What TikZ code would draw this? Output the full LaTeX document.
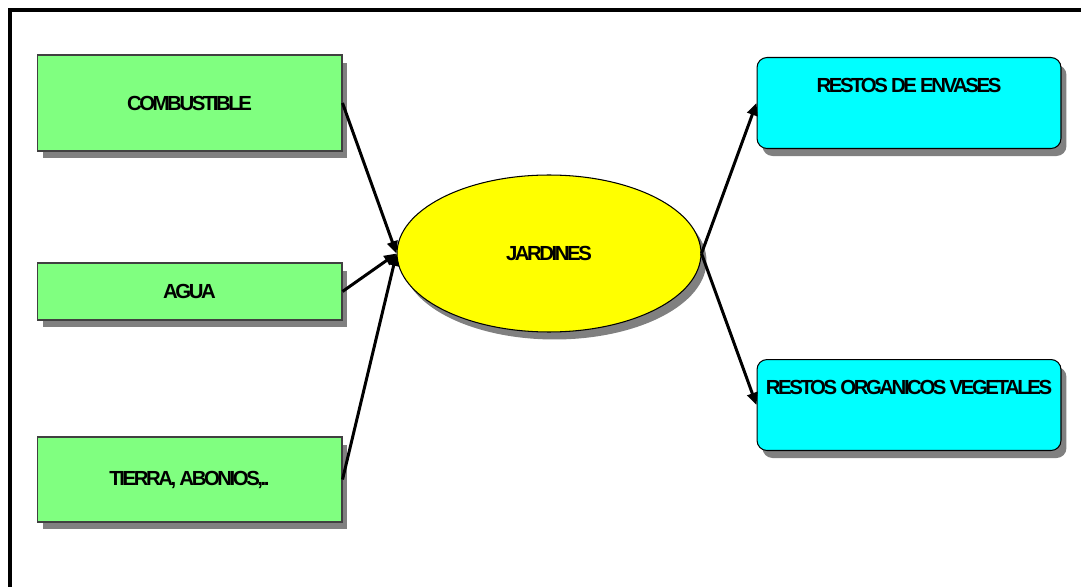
\documentclass[tikz,border=0pt]{standalone}
\usepackage{fontspec}
\setmainfont{Liberation Sans}
\newfontfamily\boxfont[LetterSpace=-12]{Liberation Sans}
\usepackage{xcolor}
\usetikzlibrary{arrows.meta,shapes.geometric,shadows}

\definecolor{jgreen}{HTML}{80FF80}
\definecolor{jcyan}{HTML}{00FFFF}
\definecolor{jyellow}{HTML}{FFFF00}
\definecolor{jshadow}{HTML}{808080}

\begin{document}
\begin{tikzpicture}[
  x=0.02cm, y=-0.02cm,
  shade/.style={drop shadow={shadow xshift=0.11cm, shadow yshift=-0.15cm, fill=jshadow, opacity=1}},
  inbox/.style={draw=black!75, line width=0.6pt, fill=jgreen, shade, inner sep=0pt, minimum width=6.1cm, align=center, font=\boxfont\bfseries\fontsize{11.6}{13}\selectfont},
  outbox/.style={draw, line width=0.6pt, fill=jcyan, shade, rounded corners=0.2cm, inner xsep=0pt, inner ysep=0pt, minimum width=6.08cm, text height=0.7cm, text depth=1.12cm, anchor=north, align=center, font=\boxfont\bfseries\fontsize{11.6}{13}\selectfont},
  hub/.style={ellipse, draw, line width=0.6pt, fill=jyellow, shade, inner sep=0pt, minimum width=6.08cm, minimum height=3.14cm, font=\boxfont\bfseries\fontsize{11.6}{13}\selectfont},
  arr/.style={-{Triangle[length=7pt,width=6pt]}, line width=1.7pt}
]
\useasboundingbox (0,0) rectangle (1081,587);
\draw[line width=2.8pt] (10,590) |- (1085,10);

\node[inbox, minimum height=1.92cm] (fuel) at (189.5,103) {COMBUSTIBLE};
\node[inbox, minimum height=1.14cm] (water) at (189.5,291.5) {AGUA};
\node[inbox, minimum height=1.7cm] (soil) at (189.5,479.5) {TIERRA, ABONIOS,..};
\node[hub] (garden) at (549,253.5) {JARDINES};
\node[outbox] (packs) at (909,57) {RESTOS DE ENVASES};
\node[outbox] (organic) at (909,359) {RESTOS ORGANICOS VEGETALES};

\draw[arr] (fuel.east) -- (garden.west);
\draw[arr] (water.east) -- (garden.west);
\draw[arr] (soil.east) -- (garden.west);
\draw[arr] (garden.east) -- (packs.west);
\draw[arr] (garden.east) -- (organic.west);
\end{tikzpicture}
\end{document}
